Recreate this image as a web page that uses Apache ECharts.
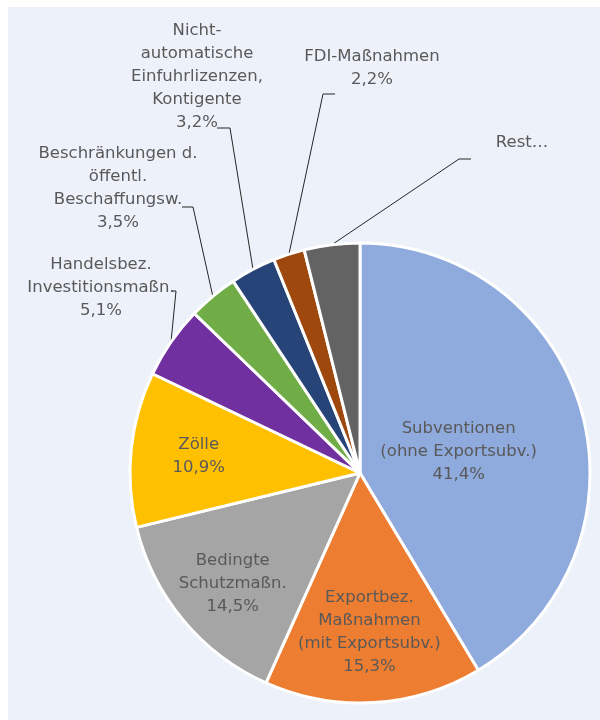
<!DOCTYPE html>
<html>
<head>
<meta charset="utf-8">
<script src="https://cdn.jsdelivr.net/npm/echarts@6/dist/echarts.min.js"></script>
<style>
  html, body { margin: 0; padding: 0; background: #fff; }
  #chart { width: 600px; height: 720px; }
</style>
</head>
<body>
<div id="chart"></div>
<script>
// Kategorien und Anteile (in %)
var categories = [
    'Subventionen\n(ohne Exportsubv.)',
    'Exportbez.\nMaßnahmen\n(mit Exportsubv.)',
    'Bedingte\nSchutzmaßn.',
    'Zölle',
    'Handelsbez.\nInvestitionsmaßn.',
    'Beschränkungen d.\nöffentl.\nBeschaffungsw.',
    'Nicht-\nautomatische\nEinfuhrlizenzen,\nKontigente',
    'FDI-Maßnahmen',
    'Rest…'
];
var shares = [41.4, 15.3, 14.5, 10.9, 5.1, 3.5, 3.2, 2.2, 3.9];
var colors = ['#8faadc', '#ed7d31', '#a5a5a5', '#ffc000', '#7030a0', '#70ad47', '#264478', '#9e480e', '#636363'];

var cx = 360, cy = 473, R = 230;

// Beschriftung innen: [Anteil am Radius, Verschiebung nach unten]
var innerPos = [[0.445, 6], [0.683, 2], [0.72, 5], [0.705, 0]];
// Beschriftung außen: Textmitte und Knick der Führungslinie
var outerPos = {
    4: { x: 101, y: 288, line: [[176, 291], [171, 291]] },
    5: { x: 118, y: 188, line: [[193, 207], [182, 207]] },
    6: { x: 197, y: 77, line: [[230, 128], [217, 128]] },
    7: { x: 372, y: 68, line: [[323, 94], [335, 94]] },
    8: { x: 522, y: 143, line: [[459, 159], [471, 159]] }
};

// Mittelwinkel jedes Segments (im Uhrzeigersinn ab 12 Uhr)
var total = shares.reduce(function (a, b) { return a + b; }, 0);
var midAngles = [];
var acc = 0;
shares.forEach(function (v) {
    midAngles.push((acc + v / 2) / total * Math.PI * 2);
    acc += v;
});

function fmtPct(v) {
    return v.toFixed(1).replace('.', ',') + '%';
}

var data = categories.map(function (name, i) {
    var inside = i < 4;
    return {
        name: name,
        value: shares[i],
        itemStyle: { color: colors[i] },
        label: { position: inside ? 'inside' : 'outside' },
        labelLine: { show: !inside }
    };
});

var myChart = echarts.init(document.getElementById('chart'));
var option = {
    backgroundColor: '#ffffff',
    animation: false,
    graphic: [{
        type: 'rect',
        z: -10,
        shape: { x: 8, y: 7, width: 592, height: 713 },
        style: { fill: '#edf1f9' }
    }],
    series: [{
        type: 'pie',
        center: [cx, cy],
        radius: [0, R],
        startAngle: 90,
        clockwise: true,
        avoidLabelOverlap: false,
        itemStyle: { borderColor: '#ffffff', borderWidth: 3 },
        label: {
            color: '#595959',
            fontFamily: 'DejaVu Sans',
            fontSize: 16.5,
            lineHeight: 23,
            align: 'center',
            formatter: function (p) {
                if (p.dataIndex === categories.length - 1) return p.name;
                return p.name + '\n' + fmtPct(p.value);
            }
        },
        labelLine: {
            lineStyle: { color: '#262626', width: 1 }
        },
        emphasis: { disabled: true },
        labelLayout: function (params) {
            var i = params.dataIndex;
            if (i < 4) {
                var r = innerPos[i][0] * R;
                return {
                    x: cx + r * Math.sin(midAngles[i]),
                    y: cy - r * Math.cos(midAngles[i]) + innerPos[i][1],
                    align: 'center',
                    verticalAlign: 'middle'
                };
            }
            var o = outerPos[i];
            var start = params.labelLinePoints ? params.labelLinePoints[0] : [cx, cy];
            return {
                x: o.x,
                y: o.y,
                align: 'center',
                verticalAlign: 'middle',
                labelLinePoints: [start, o.line[0], o.line[1]]
            };
        },
        data: data
    }]
};
myChart.setOption(option);
</script>
</body>
</html>
